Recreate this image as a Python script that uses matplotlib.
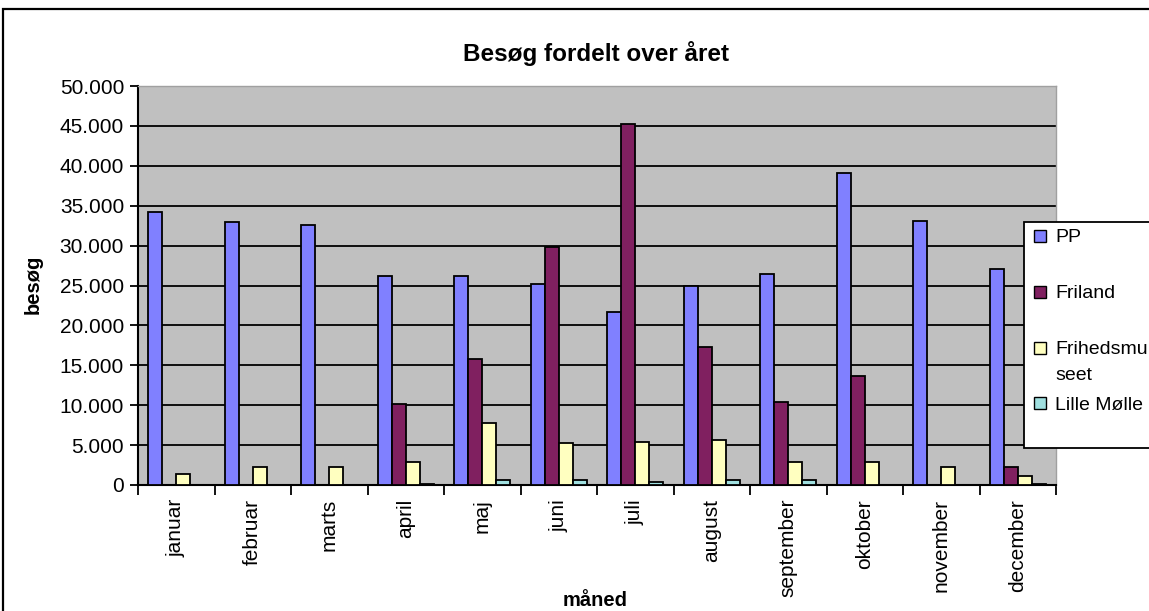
import numpy as np
import matplotlib
matplotlib.use('Agg')
import matplotlib.pyplot as plt
from matplotlib.patches import Rectangle

plt.rcParams['font.family'] = ['Liberation Sans', 'DejaVu Sans']

months = ['januar', 'februar', 'marts', 'april', 'maj', 'juni', 'juli',
          'august', 'september', 'oktober', 'november', 'december']
series_names = ['PP', 'Friland', 'Frihedsmuseet', 'Lille Mølle']
legend_labels = ['PP', 'Friland', 'Frihedsmu\nseet', 'Lille Mølle']

pp = [34200, 32900, 32600, 26200, 26200, 25200, 21700, 24900, 26400, 39100, 33100, 27100]
friland = [0, 0, 0, 10200, 15800, 29800, 45200, 17300, 10400, 13600, 0, 2200]
frihed = [1400, 2200, 2200, 2900, 7800, 5250, 5450, 5700, 2900, 2900, 2200, 1100]
lille_molle = [0, 0, 0, 150, 600, 600, 350, 600, 600, 0, 0, 150]

colors = ['#8080ff', '#802060', '#ffffc0', '#a0e0e0']

W, H = 1149, 611
fig = plt.figure(figsize=(W / 100, H / 100), dpi=100)
ax = fig.add_axes([138 / W, 1 - 485 / H, (1056 - 138) / W, (485 - 86) / H])
ax.set_facecolor('#c0c0c0')

x = np.arange(len(months))
w = 1 / 5.5
for i, vals in enumerate([pp, friland, frihed, lille_molle]):
    ax.bar(x + (i - 1.5) * w, vals, w, color=colors[i], edgecolor='black',
           linewidth=1.3, zorder=3)

ax.set_xlim(-0.5, len(months) - 0.5)
ax.set_ylim(0, 50000)
ax.set_yticks(np.arange(0, 50001, 5000))
ax.set_yticklabels([f'{v:,}'.replace(',', '.') for v in range(0, 50001, 5000)])
ax.yaxis.grid(True, color='black', linewidth=1.3, zorder=1)

ax.set_xticks(x)
ax.set_xticklabels(months, rotation=90, va='top', ha='center')
ax.set_xticks(np.arange(-0.5, len(months)), minor=True)
ax.tick_params(axis='x', which='major', length=0, pad=10, labelsize=15)
ax.tick_params(axis='x', which='minor', length=7, width=1.3, direction='out')
ax.tick_params(axis='y', length=6, width=1.3, pad=4, labelsize=15)

for s in ['left', 'bottom']:
    ax.spines[s].set_linewidth(1.5)
for s in ['top', 'right']:
    ax.spines[s].set_color('#a0a0a0')
    ax.spines[s].set_linewidth(1.0)

fig.text(596 / W, 1 - 54 / H, 'Besøg fordelt over året', ha='center', va='center',
         fontsize=17.5, fontweight='bold')
fig.text(33 / W, 1 - 284 / H, 'besøg', rotation=90, ha='center', va='center',
         fontsize=14.5, fontweight='bold')
fig.text(595 / W, 1 - 600 / H, 'måned', ha='center', va='center',
         fontsize=14.5, fontweight='bold')

# outer chart border (cut off at right and bottom)
fig.patches.append(Rectangle((3 / W, -0.1), 2, 1 - 9 / H + 0.1, transform=fig.transFigure,
                             fill=False, edgecolor='black', linewidth=1.6))

# legend box, also cut off at the right edge
fig.patches.append(Rectangle((1024 / W, 1 - 448 / H), 1, (448 - 222) / H,
                             transform=fig.transFigure, facecolor='white',
                             edgecolor='black', linewidth=1.3, zorder=5))
centers = [236, 291.5, 347.5, 403]
for lab, c, cy in zip(legend_labels, colors, centers):
    fig.patches.append(Rectangle((1034 / W, 1 - (cy + 6) / H), 12 / W, 12 / H,
                                 transform=fig.transFigure, facecolor=c,
                                 edgecolor='black', linewidth=1.0, zorder=6))
    lines = lab.split('\n')
    for k, line in enumerate(lines):
        fig.text(1055 / W, 1 - (cy + 6.5 + 26.5 * k) / H, line, ha='left', va='baseline',
                 fontsize=14, zorder=7)

fig.savefig('out.png', dpi=100)
